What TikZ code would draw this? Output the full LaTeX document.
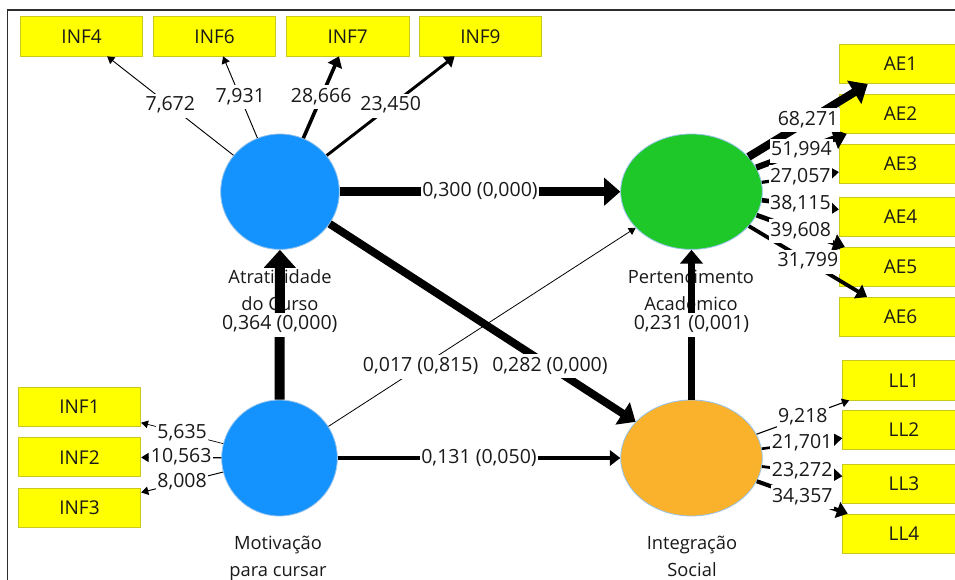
\documentclass[tikz,border=0pt]{standalone}
\usepackage{fontspec}
\setmainfont{Open Sans}
\usetikzlibrary{arrows.meta,shapes.geometric}
\definecolor{cblue}{RGB}{20,147,255}
\definecolor{cgreen}{RGB}{30,200,40}
\definecolor{corange}{RGB}{250,178,45}
\definecolor{cyel}{RGB}{255,255,0}
\definecolor{cyelb}{RGB}{200,200,30}
\definecolor{coutl}{RGB}{150,195,235}
\definecolor{ctext}{RGB}{25,25,25}
\definecolor{cframe}{RGB}{45,45,45}
\tikzset{
  lv/.style={ellipse, draw=coutl, line width=0.8pt, inner sep=0pt},
  ind/.style={draw=cyelb, fill=cyel, line width=0.8pt, minimum width=122.5pt, minimum height=39.3pt, inner sep=0pt, font=\fontsize{19}{24}\selectfont},
  lnk/.style={draw=black, line width=#1pt, -{Triangle[length=6pt 1.2, width=6pt 2.5]}},
  lbl/.style={fill=white, inner xsep=1.5pt, inner ysep=3pt, text height=14pt, text depth=4pt, font=\fontsize{19.5}{24}\selectfont},
  nm/.style={anchor=base, inner sep=0pt}
}
\begin{document}
\begin{tikzpicture}[x=1pt, y=-1pt, font=\fontsize{18.3}{24}\selectfont, text=ctext]
\useasboundingbox (0,0) rectangle (955,580);
\fill[white] (0,0) rectangle (955,580);
% frame
\draw[cframe, line width=1.6pt] (7.3,585) -- (7.3,10) -- (960,10);

% latent variables
\node[lv, fill=cblue, minimum width=118.6pt, minimum height=115.4pt] (atr) at (280,191.7) {};
\node[lv, fill=cgreen, minimum width=141.6pt, minimum height=115.4pt] (per) at (691.5,191.7) {};
\node[lv, fill=cblue, minimum width=115.6pt, minimum height=116pt] (mot) at (279.5,458) {};
\node[lv, fill=corange, minimum width=141.6pt, minimum height=116pt] (int) at (691.5,458) {};

% indicators
\node[ind] (inf4) at (81.6,36.3) {INF4};
\node[ind] (inf6) at (214.6,36.3) {INF6};
\node[ind] (inf7) at (347.7,36.3) {INF7};
\node[ind] (inf9) at (480.4,36.3) {INF9};
\node[ind] (inf1) at (79.5,407) {INF1};
\node[ind] (inf2) at (79.5,457.2) {INF2};
\node[ind] (inf3) at (79.5,507.8) {INF3};
\node[ind] (ae1) at (900.5,64) {AE1};
\node[ind] (ae2) at (900.5,113.8) {AE2};
\node[ind] (ae3) at (900.5,163.8) {AE3};
\node[ind] (ae4) at (900.5,217) {AE4};
\node[ind] (ae5) at (900.5,267) {AE5};
\node[ind] (ae6) at (900.5,317) {AE6};
\node[ind] (ll1) at (904,380.3) {LL1};
\node[ind] (ll2) at (904,430) {LL2};
\node[ind] (ll3) at (904,483.7) {LL3};
\node[ind] (ll4) at (904,533.7) {LL4};

% names
\node[nm] (atrn1) at (280,283) {Atratividade};
\node[nm] (atrn2) at (280,310) {do Curso};
\node[nm] (pern1) at (691,283) {Pertencimento};
\node[nm] (pern2) at (691,310) {Academico};
\node[nm] (motn1) at (278,549.5) {Motivação};
\node[nm] (motn2) at (278,576.5) {para cursar};
\node[nm] (intn1) at (692,549.5) {Integração};
\node[nm] (intn2) at (692,576.5) {Social};

% connectors
\draw[lnk=0.92] (atr) -- (inf4);
\draw[lnk=0.95] (atr) -- (inf6);
\draw[lnk=3.6] (atr) -- (inf7);
\draw[lnk=2.9] (atr) -- (inf9);
\draw[lnk=0.7] (mot) -- (inf1);
\draw[lnk=1.27] (mot) -- (inf2);
\draw[lnk=0.96] (mot) -- (inf3);
\draw[lnk=8.2] (per) -- (ae1);
\draw[lnk=6.2] (per) -- (ae2);
\draw[lnk=3.2] (per) -- (ae3);
\draw[lnk=4.6] (per) -- (ae4);
\draw[lnk=4.75] (per) -- (ae5);
\draw[lnk=3.8] (per) -- (ae6);
\draw[lnk=1.1] (int) -- (ll1);
\draw[lnk=2.6] (int) -- (ll2);
\draw[lnk=2.8] (int) -- (ll3);
\draw[lnk=4.1] (int) -- (ll4);
\draw[lnk=10] (mot) -- (atr);
\draw[lnk=8.4] (atr) -- (per);
\draw[lnk=7.9] (atr) -- (int);
\draw[lnk=6.5] (int) -- (per);
\draw[lnk=3.7] (mot) -- (int);
\draw[lnk=0.8] (mot) -- (per);

% labels
\path (atr) -- node[lbl] (l4) {7,672} (inf4);
\path (atr) -- node[lbl] (l6) {7,931} (inf6);
\path (atr) -- node[lbl] (l7) {28,666} (inf7);
\path (atr) -- node[lbl] (l9) {23,450} (inf9);
\path (mot) -- node[lbl] (l1) {5,635} (inf1);
\path (mot) -- node[lbl] (l2) {10,563} (inf2);
\path (mot) -- node[lbl] (l3) {8,008} (inf3);
\path (per) -- node[lbl] (la1) {68,271} (ae1);
\path (per) -- node[lbl] (la2) {51,994} (ae2);
\path (per) -- node[lbl] (la3) {27,057} (ae3);
\path (per) -- node[lbl] (la4) {38,115} (ae4);
\path (per) -- node[lbl] (la5) {39,608} (ae5);
\path (per) -- node[lbl] (la6) {31,799} (ae6);
\path (int) -- node[lbl] (ll1l) {9,218} (ll1);
\path (int) -- node[lbl] (ll2l) {21,701} (ll2);
\path (int) -- node[lbl] (ll3l) {23,272} (ll3);
\path (int) -- node[lbl] (ll4l) {34,357} (ll4);
\path (mot) -- node[lbl] (pma) {0,364 (0,000)} (atr);
\path (atr) -- node[lbl] (pap) {0,300 (0,000)} (per);
\path (atr) -- node[lbl, pos=0.72] (pai) {0,282 (0,000)} (int);
\path (int) -- node[lbl] (pip) {0,231 (0,001)} (per);
\path (mot) -- node[lbl] (pmi) {0,131 (0,050)} (int);
\path (mot) -- node[lbl, pos=0.3] (pmp) {0,017 (0,815)} (per);
\end{tikzpicture}
\end{document}
